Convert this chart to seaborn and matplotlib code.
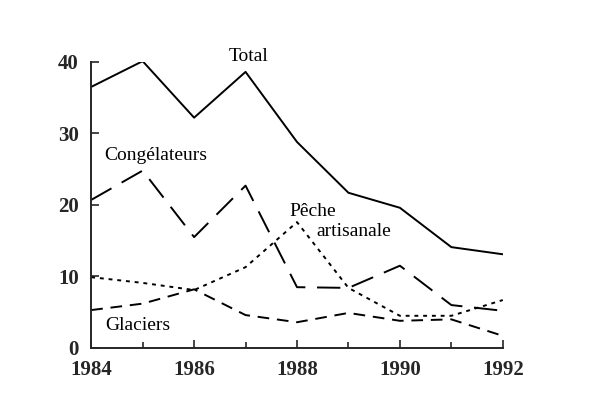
import matplotlib
matplotlib.use('Agg')
import matplotlib.pyplot as plt
import seaborn as sns
import pandas as pd
import numpy as np

# values
years = [1984, 1985, 1986, 1987, 1988, 1989, 1990, 1991, 1992]
total = [36.5, 40.1, 32.2, 38.6, 28.8, 21.7, 19.6, 14.1, 13.1]
congelateurs = [20.7, 24.8, 15.5, 22.7, 8.5, 8.4, 11.5, 6.0, 5.2]
peche = [9.9, 9.1, 8.1, 11.3, 17.6, 8.4, 4.5, 4.5, 6.7]
glaciers = [5.3, 6.2, 8.2, 4.6, 3.6, 4.9, 3.8, 4.0, 1.7]

xticks = [1984, 1986, 1988, 1990, 1992]
yticks = [0, 10, 20, 30, 40]

sns.set_style('ticks')
plt.rcParams['font.family'] = ['Liberation Serif', 'DejaVu Serif']

fig, ax = plt.subplots(figsize=(6, 4.07), dpi=100)
fig.subplots_adjust(left=0.152, right=0.838, bottom=0.145, top=0.848)

series = [
    (total, 'solid'),
    (congelateurs, (0, (12, 6))),
    (peche, (0, (2, 2.5))),
    (glaciers, (0, (6, 4))),
]
for vals, ls in series:
    sns.lineplot(x=years, y=vals, ax=ax, color='black', linewidth=1.4,
                 linestyle=ls)

ax.set_xlim(1984, 1992)
ax.set_ylim(0, 40)
ax.set_xticks(xticks)
ax.set_xticks(years, minor=True)
ax.set_yticks(yticks)
ax.tick_params(axis='both', which='major', direction='in', length=6,
               width=1.2, labelsize=15, pad=9)
ax.tick_params(axis='x', which='minor', direction='in', length=4, width=1.2)
for s in ['top', 'right']:
    ax.spines[s].set_visible(False)
for s in ['left', 'bottom']:
    ax.spines[s].set_linewidth(1.4)
for lab in ax.get_xticklabels() + ax.get_yticklabels():
    lab.set_fontweight('bold')

kw = dict(fontsize=14, color='black', ha='center', va='center')
ax.text(1987.05, 40.8, 'Total', clip_on=False, **kw)
ax.text(1985.25, 26.9, 'Congélateurs', **kw)
ax.text(1988.3, 19.1, 'Pêche', **kw)
ax.text(1989.1, 16.3, 'artisanale', **kw)
ax.text(1984.9, 3.1, 'Glaciers', **kw)

fig.savefig('out.png', dpi=100)
